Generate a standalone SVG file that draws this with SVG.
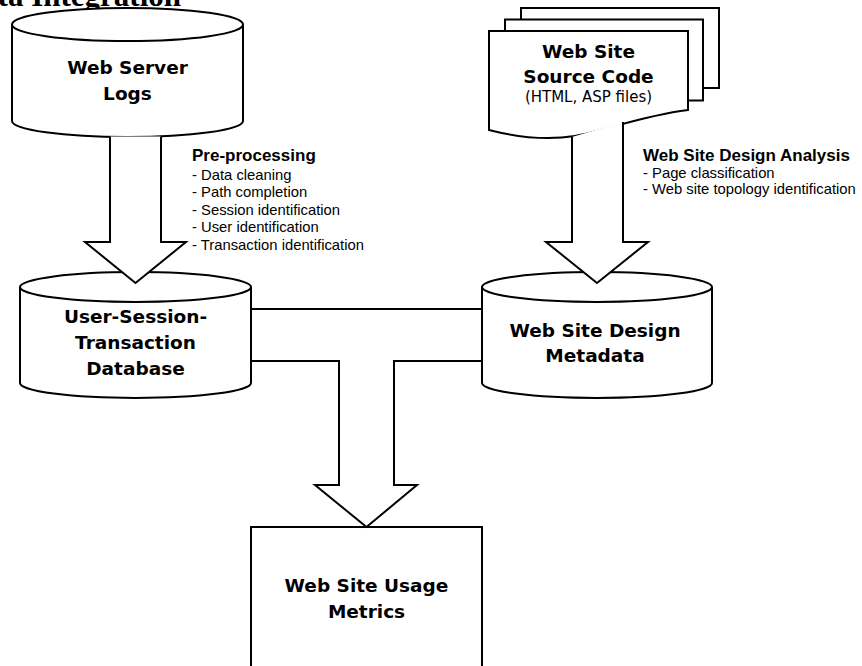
<svg xmlns="http://www.w3.org/2000/svg" width="862" height="666" viewBox="0 0 862 666">
<style>
.shape{fill:#fff;stroke:#000;stroke-width:2}
.line{fill:none;stroke:#000;stroke-width:2}
.node{font-family:"DejaVu Sans",Verdana,sans-serif;font-weight:bold;font-size:18.5px;text-anchor:middle;fill:#000}
.sub{font-family:"DejaVu Sans",Verdana,sans-serif;font-size:15px;text-anchor:middle;fill:#000}
.lbh{font-family:"Liberation Sans",Arial,sans-serif;font-weight:bold;font-size:17px;fill:#000}
.lb{font-family:"Liberation Sans",Arial,sans-serif;font-size:14.8px;fill:#000}
.title{font-family:"Liberation Serif","Times New Roman",serif;font-weight:bold;font-size:31px;text-anchor:end;fill:#000}
</style>
<rect width="862" height="666" fill="#fff"/>
<text class="title" x="181" y="6">Data Integration</text>

<g id="web-server-logs">
<path class="shape" d="M12,24.5 V121 A115.5,16 0 0 0 243,121 V24.5"/>
<ellipse class="shape" cx="127.5" cy="24.5" rx="115.5" ry="16.5"/>
<text class="node" x="127.5" y="74">Web Server</text>
<text class="node" x="127.5" y="100">Logs</text>
</g>

<g id="source-code">
<rect class="shape" x="521" y="8" width="198" height="80"/>
<rect class="shape" x="505" y="19.5" width="198" height="81"/>
<path class="shape" d="M489,31 H688 V110 C640,116 605,131 575,136 C550,140 520,138 489,130 Z"/>
<text class="node" x="588.5" y="58">Web Site</text>
<text class="node" x="588.5" y="83">Source Code</text>
<text class="sub" x="588.5" y="102">(HTML, ASP files)</text>
</g>

<g id="user-session-db">
<path class="shape" d="M20,287 V383 A115.5,15 0 0 0 251,383 V287"/>
<ellipse class="shape" cx="135.5" cy="287" rx="115.5" ry="15"/>
<text class="node" x="135.5" y="323">User-Session-</text>
<text class="node" x="135.5" y="349">Transaction</text>
<text class="node" x="135.5" y="375">Database</text>
</g>

<g id="design-metadata">
<path class="shape" d="M482,287 V383 A115,15 0 0 0 712,383 V287"/>
<ellipse class="shape" cx="597" cy="287" rx="115" ry="15"/>
<text class="node" x="595" y="337">Web Site Design</text>
<text class="node" x="595" y="362">Metadata</text>
</g>

<g id="usage-metrics">
<rect class="shape" x="251" y="527" width="231" height="180"/>
<text class="node" x="366.5" y="592">Web Site Usage</text>
<text class="node" x="366.5" y="618">Metrics</text>
</g>

<g id="connectors">
<path class="shape" d="M110,136.5 V242 H85 L135.5,283 L186,242 H161 V136.5"/>
<path class="shape" d="M572,137 V242 H546 L597,283 L648,242 H623 V122"/>
<line class="line" x1="251" y1="309" x2="482" y2="309"/>
<path class="shape" d="M251,361 H339 V485 H315 L366.5,527 L417,485 H394 V361 H482"/>
</g>

<g id="labels">
<text class="lbh" x="192" y="161">Pre-processing</text>
<text class="lb" x="192" y="179.5">- Data cleaning</text>
<text class="lb" x="192" y="197">- Path completion</text>
<text class="lb" x="192" y="214.5">- Session identification</text>
<text class="lb" x="192" y="232">- User identification</text>
<text class="lb" x="192" y="250">- Transaction identification</text>
<text class="lbh" x="643" y="161">Web Site Design Analysis</text>
<text class="lb" x="643" y="178">- Page classification</text>
<text class="lb" x="643" y="194">- Web site topology identification</text>
</g>
</svg>
